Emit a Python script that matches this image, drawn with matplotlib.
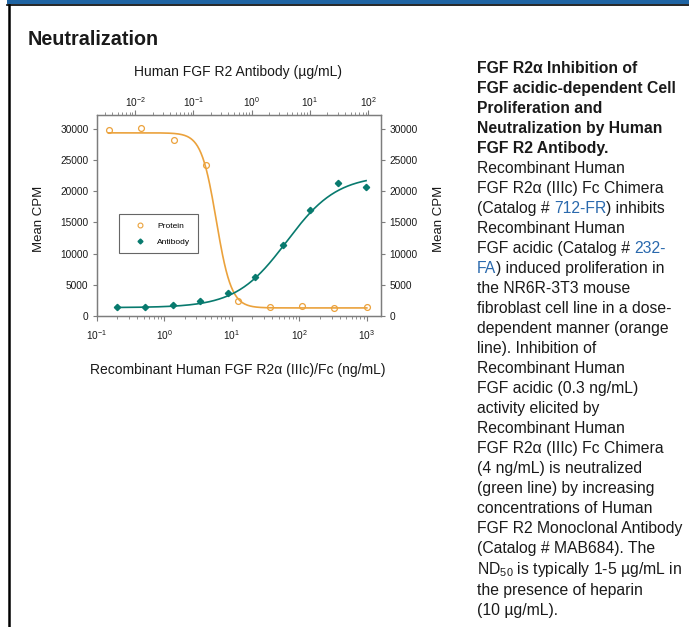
import re
import numpy as np
import matplotlib.pyplot as plt
from matplotlib.lines import Line2D
from matplotlib.patches import Rectangle
from matplotlib.ticker import NullFormatter

plt.rcParams['font.family'] = ['Liberation Sans', 'DejaVu Sans']
plt.rcParams['mathtext.default'] = 'regular'

## data
# protein, bottom axis (ng/mL)
protein_conc = [0.15, 0.46, 1.4, 4.1, 12.3, 37, 110, 330, 1000]
protein_cpm = [29850, 30200, 28200, 24200, 2400, 1400, 1500, 1200, 1400]
# antibody, top axis (ug/mL)
antibody_conc = [0.0048, 0.0145, 0.044, 0.13, 0.39, 1.14, 3.4, 10, 30, 92]
antibody_cpm = [1330, 1450, 1650, 2350, 3650, 6300, 11300, 17000, 21400, 20750]

# 4-parameter logistic fits: bottom, top, ec50, hill
protein_fit = (1250, 29400, 5.9, -3.9)
antibody_fit = (1300, 22600, 4.0, 1.0)

y_ticks = [0, 5000, 10000, 15000, 20000, 25000, 30000]

title = "Neutralization"
top_label = "Human FGF R2 Antibody (µg/mL)"
bottom_label = "Recombinant Human FGF R2α (IIIc)/Fc (ng/mL)"
y_label = "Mean CPM"
legend_labels = ["Protein", "Antibody"]

caption_bold = [
    "FGF R2α Inhibition of",
    "FGF acidic-dependent Cell",
    "Proliferation and",
    "Neutralization by Human",
    "FGF R2 Antibody.",
]
caption_body = [
    "Recombinant Human",
    "FGF R2α (IIIc) Fc Chimera",
    "(Catalog # [712-FR]) inhibits",
    "Recombinant Human",
    "FGF acidic (Catalog # [232-]",
    "[FA]) induced proliferation in",
    "the NR6R-3T3 mouse",
    "fibroblast cell line in a dose-",
    "dependent manner (orange",
    "line). Inhibition of",
    "Recombinant Human",
    "FGF acidic (0.3 ng/mL)",
    "activity elicited by",
    "Recombinant Human",
    "FGF R2α (IIIc) Fc Chimera",
    "(4 ng/mL) is neutralized",
    "(green line) by increasing",
    "concentrations of Human",
    "FGF R2 Monoclonal Antibody",
    "(Catalog # MAB684). The",
    "ND$_{50}$ is typically 1-5 µg/mL in",
    "the presence of heparin",
    "(10 µg/mL).",
]

orange = '#eba23c'
green = '#087a6e'
grey = '#7d7d7d'
blue = '#2a69ad'
ink = '#1a1a1a'

W, H = 689, 627


def logistic(x, bottom, top, ec50, hill):
    return bottom + (top - bottom) / (1 + (ec50 / x) ** hill)


fig = plt.figure(figsize=(W / 100, H / 100), dpi=100)

# page frame
fig.add_artist(Rectangle((7 / W, 1 - 3.5 / H), 1, 3.5 / H, transform=fig.transFigure,
                         color='#1f64a3', lw=0))
fig.add_artist(Line2D([7 / W, 1], [1 - 4.8 / H, 1 - 4.8 / H], transform=fig.transFigure,
                      color='k', lw=1.2))
fig.add_artist(Line2D([8.5 / W, 8.5 / W], [0, 1 - 4.5 / H], transform=fig.transFigure,
                      color='k', lw=1.8))

fig.text(28 / W, 1 - 45 / H, title, weight='bold', fontsize=14.2, color=ink,
         va='baseline')

# chart
x0, x1, y0, y1 = 96.7, 381, 315.7, 115
ax = fig.add_axes([x0 / W, 1 - y0 / H, (x1 - x0) / W, (y0 - y1) / H])
ax.set_xscale('log')
ax.set_xlim(0.1, 10 ** 3.21)
ax.set_ylim(0, 32270)
ax.set_yticks(y_ticks)

xs = np.logspace(np.log10(protein_conc[0]), np.log10(protein_conc[-1]), 300)
ax.plot(xs, logistic(xs, *protein_fit), color=orange, lw=1.2)
ax.plot(protein_conc, protein_cpm, 'o', mfc='none', mec=orange, ms=4.2, mew=0.9)

ax2 = ax.twiny()
ax2.set_xscale('log')
ax2.set_xlim(10 ** -2.66, 10 ** 2.22)
xa = np.logspace(np.log10(antibody_conc[0]), np.log10(antibody_conc[-1]), 300)
ax2.plot(xa, logistic(xa, *antibody_fit), color=green, lw=1.2)
ax2.plot(antibody_conc, antibody_cpm, 'D', color=green, ms=3.2)

for a, pad in ((ax, 5.5), (ax2, 0.8)):
    for s in a.spines.values():
        s.set_color(grey)
        s.set_linewidth(0.9)
    a.xaxis.set_minor_formatter(NullFormatter())
    a.tick_params(axis='x', which='major', direction='out', length=3.5, width=0.8,
                  color=grey, labelsize=7.3, pad=pad, labelcolor=ink)
    a.tick_params(axis='x', which='minor', direction='out', length=2, width=0.6,
                  color=grey)
ax.tick_params(axis='y', direction='out', length=3, width=0.8, color=grey,
               labelsize=7.3, labelcolor=ink, pad=3, right=True, labelright=True)

ax.set_ylabel(y_label, fontsize=9.5, color=ink)
ax.yaxis.set_label_coords((45 - x0) / (x1 - x0), 0.48)
fig.text(433 / W, 1 - 219 / H, y_label, fontsize=9.5, color=ink, rotation=90,
         ha='left', va='center')
fig.text(238 / W, 1 - 76 / H, top_label, fontsize=10, color=ink,
         ha='center', va='baseline')
fig.text(238 / W, 1 - 374 / H, bottom_label, fontsize=10, color=ink,
         ha='center', va='baseline')

handles = [Line2D([], [], ls='none', marker='o', mfc='none', mec=orange, ms=3.5, mew=0.8),
           Line2D([], [], ls='none', marker='D', color=green, ms=2.5)]
leg = ax2.legend(handles, legend_labels, loc='upper left',
                 bbox_to_anchor=((119.3 - x0) / (x1 - x0), (y0 - 214.3) / (y0 - y1)),
                 borderaxespad=0, fancybox=False, framealpha=1, edgecolor='#666666',
                 fontsize=6, handlelength=3.2, handletextpad=0.45, labelspacing=1.0,
                 borderpad=0.9)
leg.get_frame().set_linewidth(0.8)

# caption on the right
renderer = fig.canvas.get_renderer()
cap_kw = dict(fontsize=11.3, va='baseline')


def width(s, **kw):
    t = fig.text(0, 0, s, **kw)
    w = t.get_window_extent(renderer).width
    t.remove()
    return w


tx = 477
base = 72.7
step = 20.0
for i, line in enumerate(caption_bold):
    fig.text(tx / W, 1 - (base + i * step) / H, line, weight='bold', color=ink, **cap_kw)
for j, line in enumerate(caption_body):
    i = j + len(caption_bold)
    y = base + i * step
    if line.startswith('ND'):
        y += 1
    elif i > len(caption_bold) + 20:
        y += 2
    parts = [p for p in re.split(r'(\[[^\]]*\])', line) if p]
    done = ''
    for p in parts:
        is_link = p.startswith('[')
        s = p.strip('[]')
        dx = width(done + s, **cap_kw) - width(s, **cap_kw) if done else 0
        fig.text((tx + dx) / W, 1 - y / H, s, color=blue if is_link else ink, **cap_kw)
        done += s

fig.savefig('out.png', dpi=100)
